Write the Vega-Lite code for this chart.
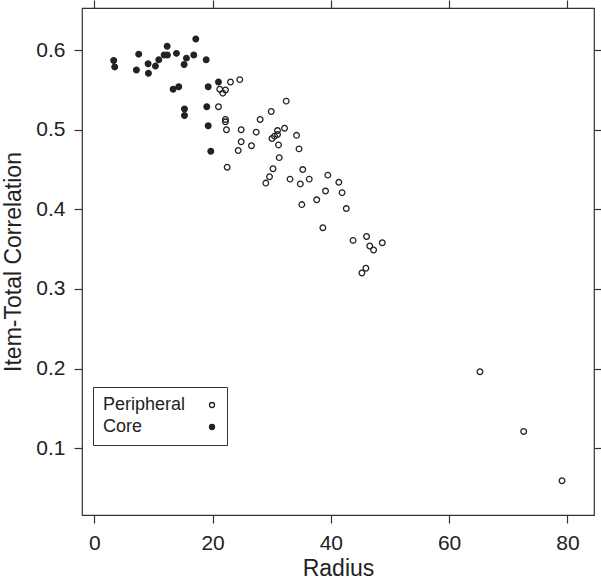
{
  "$schema": "https://vega.github.io/schema/vega-lite/v6.json",
  "width": 512,
  "height": 507,
  "autosize": "none",
  "padding": {"left": 82, "top": 8, "right": 7, "bottom": 66},
  "background": "white",
  "config": {
    "font": "Liberation Sans",
    "view": {"stroke": "#333", "strokeWidth": 1.2},
    "axis": {
      "domain": false,
      "grid": false,
      "tickColor": "#333",
      "tickWidth": 1.2,
      "tickSize": 8,
      "labelFont": "Liberation Sans",
      "titleFont": "Liberation Sans",
      "labelFontSize": 21,
      "titleFontSize": 23,
      "labelColor": "#222",
      "titleColor": "#222",
      "titleFontWeight": "normal",
      "labelPadding": 9
    }
  },
  "data": {
    "values": [
      {"radius": 3.28, "corr": 0.587, "group": "Core"},
      {"radius": 3.45, "corr": 0.579, "group": "Core"},
      {"radius": 7.51, "corr": 0.595, "group": "Core"},
      {"radius": 7.12, "corr": 0.575, "group": "Core"},
      {"radius": 9.10, "corr": 0.583, "group": "Core"},
      {"radius": 9.15, "corr": 0.571, "group": "Core"},
      {"radius": 10.34, "corr": 0.580, "group": "Core"},
      {"radius": 10.90, "corr": 0.588, "group": "Core"},
      {"radius": 11.81, "corr": 0.594, "group": "Core"},
      {"radius": 12.37, "corr": 0.594, "group": "Core"},
      {"radius": 12.32, "corr": 0.605, "group": "Core"},
      {"radius": 13.89, "corr": 0.596, "group": "Core"},
      {"radius": 15.58, "corr": 0.590, "group": "Core"},
      {"radius": 15.19, "corr": 0.582, "group": "Core"},
      {"radius": 16.82, "corr": 0.594, "group": "Core"},
      {"radius": 17.16, "corr": 0.614, "group": "Core"},
      {"radius": 18.92, "corr": 0.588, "group": "Core"},
      {"radius": 13.33, "corr": 0.551, "group": "Core"},
      {"radius": 14.28, "corr": 0.554, "group": "Core"},
      {"radius": 15.25, "corr": 0.526, "group": "Core"},
      {"radius": 15.25, "corr": 0.518, "group": "Core"},
      {"radius": 19.26, "corr": 0.554, "group": "Core"},
      {"radius": 19.02, "corr": 0.529, "group": "Core"},
      {"radius": 19.26, "corr": 0.505, "group": "Core"},
      {"radius": 19.70, "corr": 0.473, "group": "Core"},
      {"radius": 21.00, "corr": 0.560, "group": "Core"},
      {"radius": 23.03, "corr": 0.560, "group": "Peripheral"},
      {"radius": 24.60, "corr": 0.563, "group": "Peripheral"},
      {"radius": 21.22, "corr": 0.551, "group": "Peripheral"},
      {"radius": 22.18, "corr": 0.550, "group": "Peripheral"},
      {"radius": 21.73, "corr": 0.546, "group": "Peripheral"},
      {"radius": 21.00, "corr": 0.529, "group": "Peripheral"},
      {"radius": 32.45, "corr": 0.536, "group": "Peripheral"},
      {"radius": 29.92, "corr": 0.523, "group": "Peripheral"},
      {"radius": 22.18, "corr": 0.513, "group": "Peripheral"},
      {"radius": 22.18, "corr": 0.510, "group": "Peripheral"},
      {"radius": 22.35, "corr": 0.500, "group": "Peripheral"},
      {"radius": 24.84, "corr": 0.500, "group": "Peripheral"},
      {"radius": 28.05, "corr": 0.513, "group": "Peripheral"},
      {"radius": 27.38, "corr": 0.497, "group": "Peripheral"},
      {"radius": 32.17, "corr": 0.502, "group": "Peripheral"},
      {"radius": 30.98, "corr": 0.499, "group": "Peripheral"},
      {"radius": 30.98, "corr": 0.494, "group": "Peripheral"},
      {"radius": 30.47, "corr": 0.492, "group": "Peripheral"},
      {"radius": 30.05, "corr": 0.489, "group": "Peripheral"},
      {"radius": 34.20, "corr": 0.493, "group": "Peripheral"},
      {"radius": 24.84, "corr": 0.485, "group": "Peripheral"},
      {"radius": 26.58, "corr": 0.480, "group": "Peripheral"},
      {"radius": 24.33, "corr": 0.474, "group": "Peripheral"},
      {"radius": 31.15, "corr": 0.481, "group": "Peripheral"},
      {"radius": 34.62, "corr": 0.476, "group": "Peripheral"},
      {"radius": 31.27, "corr": 0.465, "group": "Peripheral"},
      {"radius": 22.47, "corr": 0.453, "group": "Peripheral"},
      {"radius": 30.22, "corr": 0.451, "group": "Peripheral"},
      {"radius": 35.25, "corr": 0.450, "group": "Peripheral"},
      {"radius": 29.63, "corr": 0.441, "group": "Peripheral"},
      {"radius": 33.10, "corr": 0.438, "group": "Peripheral"},
      {"radius": 29.00, "corr": 0.433, "group": "Peripheral"},
      {"radius": 34.84, "corr": 0.432, "group": "Peripheral"},
      {"radius": 36.35, "corr": 0.438, "group": "Peripheral"},
      {"radius": 39.49, "corr": 0.443, "group": "Peripheral"},
      {"radius": 41.35, "corr": 0.434, "group": "Peripheral"},
      {"radius": 39.10, "corr": 0.423, "group": "Peripheral"},
      {"radius": 41.90, "corr": 0.421, "group": "Peripheral"},
      {"radius": 37.61, "corr": 0.412, "group": "Peripheral"},
      {"radius": 35.09, "corr": 0.406, "group": "Peripheral"},
      {"radius": 42.61, "corr": 0.401, "group": "Peripheral"},
      {"radius": 38.65, "corr": 0.377, "group": "Peripheral"},
      {"radius": 43.76, "corr": 0.361, "group": "Peripheral"},
      {"radius": 46.04, "corr": 0.366, "group": "Peripheral"},
      {"radius": 46.58, "corr": 0.354, "group": "Peripheral"},
      {"radius": 47.23, "corr": 0.349, "group": "Peripheral"},
      {"radius": 48.70, "corr": 0.358, "group": "Peripheral"},
      {"radius": 45.92, "corr": 0.326, "group": "Peripheral"},
      {"radius": 45.25, "corr": 0.320, "group": "Peripheral"},
      {"radius": 65.21, "corr": 0.196, "group": "Peripheral"},
      {"radius": 72.61, "corr": 0.121, "group": "Peripheral"},
      {"radius": 79.09, "corr": 0.059, "group": "Peripheral"}
    ]
  },
  "layer": [
    {
      "mark": {"type": "point", "shape": "circle", "filled": true, "stroke": "#222", "strokeWidth": 1.3, "opacity": 1, "size": 32},
      "encoding": {
        "x": {
          "field": "radius", "type": "quantitative",
          "scale": {"domain": [-2.08, 84.5], "nice": false, "zero": false},
          "axis": {"orient": "bottom", "values": [0, 20, 40, 60, 80], "title": "Radius", "titlePadding": 4}
        },
        "y": {
          "field": "corr", "type": "quantitative",
          "scale": {"domain": [0.016, 0.653], "nice": false, "zero": false},
          "axis": {"orient": "left", "values": [0.1, 0.2, 0.3, 0.4, 0.5, 0.6], "format": ".1f", "title": "Item-Total Correlation", "titlePadding": 10}
        },
        "fill": {
          "field": "group", "type": "nominal",
          "scale": {"domain": ["Peripheral", "Core"], "range": ["transparent", "#222"]},
          "legend": {
            "orient": "none",
            "legendX": 11,
            "legendY": 379,
            "title": null,
            "strokeColor": "#333",
            "padding": 9,
            "labelFontSize": 18,
            "labelColor": "#222",
            "labelFont": "Liberation Sans",
            "symbolSize": 25,
            "symbolStrokeColor": "#222",
            "symbolStrokeWidth": 1.3,
            "symbolType": "circle",
            "symbolOffset": 101,
            "labelOffset": -118,
            "rowPadding": 4
          }
        }
      }
    },
    {
      "mark": {"type": "point", "opacity": 0},
      "encoding": {
        "x": {
          "field": "radius", "type": "quantitative",
          "axis": {"orient": "top", "values": [0, 20, 40, 60, 80], "labels": false, "title": null}
        },
        "y": {
          "field": "corr", "type": "quantitative",
          "axis": {"orient": "right", "values": [0.1, 0.2, 0.3, 0.4, 0.5, 0.6], "labels": false, "title": null}
        }
      }
    }
  ],
  "resolve": {"axis": {"x": "independent", "y": "independent"}}
}
